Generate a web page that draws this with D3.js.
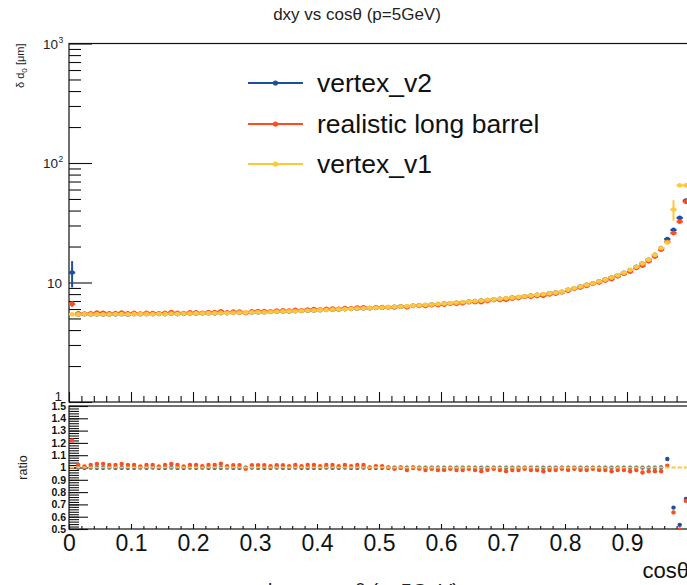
<!DOCTYPE html>
<html>
<head>
<meta charset="utf-8">
<script src="https://cdn.jsdelivr.net/npm/d3@7"></script>
<style>
  html, body { margin: 0; padding: 0; background: #fff; }
  svg { display: block; font-family: "Liberation Sans", Arial, Helvetica, sans-serif; }
</style>
</head>
<body>
<svg id="chart" width="687" height="585"></svg>
<script>
// Histogram binning: 100 bins over cos(theta) in [0, 1]
const nBins = 100;
const cosMin = 0;
const cosMax = 1;

// Impact-parameter resolution (um) per bin, p = 5 GeV
const vertexV2 = [
  12.1, 5.40, 5.43, 5.41, 5.42, 5.41, 5.40, 5.42, 5.43, 5.40,
  5.44, 5.43, 5.45, 5.44, 5.46, 5.44, 5.48, 5.45, 5.48, 5.50,
  5.50, 5.52, 5.52, 5.53, 5.55, 5.55, 5.57, 5.58, 5.60, 5.62,
  5.63, 5.64, 5.67, 5.70, 5.71, 5.73, 5.77, 5.78, 5.81, 5.84,
  5.87, 5.90, 5.92, 5.95, 5.99, 6.01, 6.04, 6.08, 6.10, 6.13,
  6.16, 6.20, 6.24, 6.28, 6.32, 6.37, 6.42, 6.47, 6.52, 6.58,
  6.64, 6.70, 6.76, 6.83, 6.90, 6.97, 7.04, 7.12, 7.20, 7.28,
  7.37, 7.46, 7.55, 7.65, 7.75, 7.86, 7.97, 8.09, 8.21, 8.34,
  8.69, 8.94, 9.24, 9.54, 9.84, 10.19, 10.59, 10.99, 11.49, 12.04,
  12.69, 13.49, 14.39, 15.49, 16.98, 19.4, 23.1, 27.5, 34.7, 48.4
];
const realisticLongBarrel = [
  6.61, 5.51, 5.49, 5.52, 5.59, 5.58, 5.51, 5.54, 5.60, 5.52,
  5.56, 5.48, 5.57, 5.55, 5.52, 5.56, 5.64, 5.57, 5.54, 5.61,
  5.62, 5.58, 5.64, 5.65, 5.73, 5.61, 5.69, 5.70, 5.55, 5.73,
  5.75, 5.76, 5.74, 5.81, 5.83, 5.80, 5.89, 5.85, 5.94, 5.97,
  5.94, 6.02, 6.05, 6.02, 6.11, 6.08, 6.17, 6.20, 6.11, 6.20,
  6.23, 6.21, 6.19, 6.29, 6.20, 6.38, 6.37, 6.35, 6.46, 6.46,
  6.52, 6.64, 6.63, 6.70, 6.84, 6.84, 6.84, 6.99, 7.14, 7.14,
  7.16, 7.32, 7.41, 7.58, 7.60, 7.71, 7.74, 7.94, 8.06, 8.27,
  8.53, 8.86, 9.07, 9.36, 9.75, 10.00, 10.39, 10.67, 11.27, 11.81,
  12.32, 13.23, 13.82, 15.04, 16.49, 18.82, 21.9, 25.9, 32.3, 47.4
];
const vertexV1 = [
  5.42, 5.40, 5.44, 5.41, 5.43, 5.42, 5.40, 5.43, 5.44, 5.41,
  5.45, 5.43, 5.46, 5.44, 5.47, 5.45, 5.48, 5.46, 5.49, 5.50,
  5.51, 5.52, 5.53, 5.54, 5.56, 5.55, 5.58, 5.59, 5.61, 5.62,
  5.64, 5.65, 5.68, 5.70, 5.72, 5.74, 5.77, 5.79, 5.82, 5.85,
  5.88, 5.90, 5.93, 5.96, 5.99, 6.02, 6.05, 6.08, 6.11, 6.14,
  6.17, 6.21, 6.25, 6.29, 6.33, 6.38, 6.43, 6.48, 6.53, 6.59,
  6.65, 6.71, 6.77, 6.84, 6.91, 6.98, 7.05, 7.13, 7.21, 7.29,
  7.38, 7.47, 7.56, 7.66, 7.76, 7.87, 7.98, 8.10, 8.22, 8.35,
  8.70, 8.95, 9.25, 9.55, 9.85, 10.2, 10.6, 11.0, 11.5, 12.05,
  12.7, 13.5, 14.4, 15.5, 17.0, 19.4, 21.6, 40.8, 65.0, 65.0
];

// Visible vertical error bars: [bin index, error]
const vertexV2Err = [[0, 3.0]];
const realisticLongBarrelErr = [[0, 0.35]];
const vertexV1Err = [[97, 8.0]];

const seriesNames = ["vertex_v2", "realistic long barrel", "vertex_v1"];
const seriesColors = ["#1d4f9f", "#ff4b1f", "#ffc83c"];

const xTickValues = [0, 0.1, 0.2, 0.3, 0.4, 0.5, 0.6, 0.7, 0.8, 0.9, 1.0];
const xTickLabels = ["0", "0.1", "0.2", "0.3", "0.4", "0.5", "0.6", "0.7", "0.8", "0.9", "1"];
const yTopMajor = [1, 10, 100, 1000];
const yTopLabels = [["1", null], ["10", null], ["10", "2"], ["10", "3"]];
const ratioTickValues = [0.5, 0.6, 0.7, 0.8, 0.9, 1.0, 1.1, 1.2, 1.3, 1.4, 1.5];
const ratioTickLabels = ["0.5", "0.6", "0.7", "0.8", "0.9", "1", "1.1", "1.2", "1.3", "1.4", "1.5"];

const titleText = "dxy vs cos\u03b8 (p=5GeV)";

// ---------------------------------------------------------------
const svg = d3.select("#chart");
const ink = "#111";

const frame = { left: 69, right: 689 };
const topPad = { top: 43.5, bottom: 402 };
const lowPad = { top: 406, bottom: 529 };

const x = d3.scaleLinear().domain([cosMin, cosMax]).range([frame.left, frame.right]);
const yTop = d3.scaleLog().domain([1, 1000]).range([topPad.bottom, topPad.top]);
const yRatio = d3.scaleLinear().domain([0.5, 1.5]).range([lowPad.bottom, lowPad.top]);

const binWidth = (cosMax - cosMin) / nBins;
const binLo = i => cosMin + i * binWidth;
const binCenter = i => cosMin + (i + 0.5) * binWidth;

const defs = svg.append("defs");
defs.append("clipPath").attr("id", "clipTop").append("rect")
  .attr("x", frame.left).attr("y", topPad.top)
  .attr("width", frame.right - frame.left).attr("height", topPad.bottom - topPad.top);
defs.append("clipPath").attr("id", "clipLow").append("rect")
  .attr("x", frame.left).attr("y", lowPad.top)
  .attr("width", frame.right - frame.left).attr("height", lowPad.bottom - lowPad.top);

// Title
svg.append("text")
  .attr("x", 357).attr("y", 20)
  .attr("text-anchor", "middle")
  .attr("font-size", 17).attr("fill", "#222")
  .text(titleText);

// ---------------- Upper pad ----------------
const gTop = svg.append("g");

// Frame
gTop.append("rect")
  .attr("x", frame.left).attr("y", topPad.top)
  .attr("width", frame.right - frame.left).attr("height", topPad.bottom - topPad.top)
  .attr("fill", "none").attr("stroke", ink).attr("stroke-width", 1.2);

// x ticks on the lower frame edge (pointing up, no labels)
const xMinor = d3.range(0, 1.0001, 0.02).filter(v => Math.abs(v * 10 - Math.round(v * 10)) > 1e-6);
function xTicks(g, y0, majorLen, minorLen) {
  g.append("g").attr("transform", `translate(0,${y0})`)
    .call(d3.axisBottom(x).tickValues(xTickValues).tickSize(-majorLen).tickFormat(""))
    .call(a => a.select(".domain").remove());
  g.append("g").attr("transform", `translate(0,${y0})`)
    .call(d3.axisBottom(x).tickValues(xMinor).tickSize(-minorLen).tickFormat(""))
    .call(a => a.select(".domain").remove());
  g.selectAll("line").attr("stroke", ink).attr("stroke-width", 1.1);
}
xTicks(gTop, topPad.bottom, 10, 6);

// Log y ticks (pointing right)
const yTopMinor = [];
[1, 10, 100].forEach(dec => { for (let k = 2; k <= 9; k++) yTopMinor.push(k * dec); });
const yAxT = gTop.append("g").attr("transform", `translate(${frame.left},0)`);
yAxT.append("g").call(d3.axisLeft(yTop).tickValues(yTopMajor).tickSize(-23).tickFormat(""))
  .call(a => a.select(".domain").remove());
yAxT.append("g").call(d3.axisLeft(yTop).tickValues(yTopMinor).tickSize(-12).tickFormat(""))
  .call(a => a.select(".domain").remove());
yAxT.selectAll("line").attr("stroke", ink).attr("stroke-width", 1.1);

// Log y labels with superscript exponents
yTopMajor.forEach((v, i) => {
  const [base, exp] = yTopLabels[i];
  gTop.append("text")
    .attr("x", exp ? 58 : 62).attr("y", yTop(v) + (v === 1 ? -1 : 5))
    .attr("text-anchor", "end").attr("font-size", 13.5).attr("fill", "#222")
    .text(base);
  if (exp) {
    gTop.append("text")
      .attr("x", 58.5).attr("y", yTop(v) - 1)
      .attr("font-size", 8.5).attr("fill", "#222").text(exp);
  }
});

// y title
const yTitle = gTop.append("text")
  .attr("transform", `translate(24,${topPad.top}) rotate(-90)`)
  .attr("text-anchor", "end").attr("font-size", 11).attr("fill", "#222");
yTitle.append("tspan").text("\u03b4 d");
yTitle.append("tspan").attr("font-size", 8).attr("dy", 3).text("0");
yTitle.append("tspan").attr("dy", -3).text(" [\u03bcm]");

// Data
const plotTop = gTop.append("g").attr("clip-path", "url(#clipTop)");
const allSeries = [vertexV2, realisticLongBarrel, vertexV1];
const allErrs = [vertexV2Err, realisticLongBarrelErr, vertexV1Err];

allSeries.forEach((vals, s) => {
  const col = seriesColors[s];
  const g = plotTop.append("g");
  g.selectAll("line.hbar").data(vals).join("line")
    .attr("x1", (d, i) => x(binLo(i))).attr("x2", (d, i) => x(binLo(i) + binWidth))
    .attr("y1", d => yTop(d)).attr("y2", d => yTop(d))
    .attr("stroke", col).attr("stroke-width", 2.2);
  g.selectAll("line.vbar").data(allErrs[s]).join("line")
    .attr("x1", d => x(binCenter(d[0]))).attr("x2", d => x(binCenter(d[0])))
    .attr("y1", d => yTop(vals[d[0]] - d[1])).attr("y2", d => yTop(vals[d[0]] + d[1]))
    .attr("stroke", col).attr("stroke-width", 2);
  g.selectAll("circle").data(vals).join("circle")
    .attr("cx", (d, i) => x(binCenter(i))).attr("cy", d => yTop(d))
    .attr("r", 2.4).attr("fill", col);
});

// Legend
const legY = [83, 124, 164];
const leg = svg.append("g");
seriesNames.forEach((name, i) => {
  leg.append("line").attr("x1", 248).attr("x2", 303)
    .attr("y1", legY[i]).attr("y2", legY[i])
    .attr("stroke", seriesColors[i]).attr("stroke-width", 2);
  leg.append("circle").attr("cx", 275.5).attr("cy", legY[i]).attr("r", 2.6)
    .attr("fill", seriesColors[i]);
  leg.append("text").attr("x", 317).attr("y", legY[i] + 9)
    .attr("font-size", 26.5).attr("fill", "#111").text(name);
});

// ---------------- Ratio pad ----------------
const gLow = svg.append("g");
gLow.append("rect")
  .attr("x", frame.left).attr("y", lowPad.top)
  .attr("width", frame.right - frame.left).attr("height", lowPad.bottom - lowPad.top)
  .attr("fill", "none").attr("stroke", ink).attr("stroke-width", 1.2);

xTicks(gLow, lowPad.bottom, 5, 3);

// x labels
gLow.append("g").attr("transform", `translate(0,${lowPad.bottom})`)
  .call(d3.axisBottom(x).tickValues(xTickValues.slice(0, 10)).tickSize(0).tickPadding(6)
    .tickFormat((d, i) => xTickLabels[i]))
  .call(a => a.select(".domain").remove())
  .call(a => a.selectAll("text").attr("font-size", 23).attr("fill", "#111")
    .attr("font-family", "'Liberation Sans', Arial, sans-serif"));

svg.append("text").attr("x", frame.right).attr("y", 578)
  .attr("text-anchor", "end").attr("font-size", 22).attr("fill", "#111")
  .text("cos\u03b8");

// ratio y axis
const ratioMinor = d3.range(0.5, 1.5001, 0.02);
const yAxL = gLow.append("g").attr("transform", `translate(${frame.left},0)`);
yAxL.append("g").call(d3.axisLeft(yRatio).tickValues(ratioMinor).tickSize(-10).tickFormat(""))
  .call(a => a.select(".domain").remove());
yAxL.append("g").call(d3.axisLeft(yRatio).tickValues(ratioTickValues).tickSize(-19).tickPadding(3)
    .tickFormat((d, i) => ratioTickLabels[i]))
  .call(a => a.select(".domain").remove())
  .call(a => a.selectAll("text").attr("font-size", 10.5).attr("fill", "#111")
    .attr("font-weight", "bold")
    .attr("font-family", "'Liberation Sans', Arial, sans-serif"));
yAxL.selectAll("line").attr("stroke", ink).attr("stroke-width", 1.1);

svg.append("text")
  .attr("transform", `translate(27,${(lowPad.top + lowPad.bottom) / 2}) rotate(-90)`)
  .attr("text-anchor", "middle").attr("font-size", 12.5).attr("fill", "#222")
  .text("ratio");

// Ratios to vertex_v1
const plotLow = gLow.append("g").attr("clip-path", "url(#clipLow)");
const ratioV1 = vertexV1.map((v, i) => v / vertexV1[i]);
const ratioV2 = vertexV2.map((v, i) => v / vertexV1[i]);
const ratioRLB = realisticLongBarrel.map((v, i) => v / vertexV1[i]);

[ratioV2, ratioRLB].forEach((vals, s) => {
  plotLow.append("g").selectAll("circle").data(vals).join("circle")
    .attr("cx", (d, i) => x(binCenter(i))).attr("cy", d => yRatio(d))
    .attr("r", 2.2).attr("fill", seriesColors[s]);
});
plotLow.append("g").selectAll("line").data(ratioV1).join("line")
  .attr("x1", (d, i) => x(binCenter(i)) - 2.1).attr("x2", (d, i) => x(binCenter(i)) + 2.1)
  .attr("y1", d => yRatio(d)).attr("y2", d => yRatio(d))
  .attr("stroke", seriesColors[2]).attr("stroke-width", 2);

// Lower pad title (runs off the canvas bottom)
svg.append("text")
  .attr("x", 360).attr("y", 598)
  .attr("text-anchor", "middle").attr("font-size", 20).attr("fill", "#222")
  .text(titleText);
</script>
</body>
</html>
